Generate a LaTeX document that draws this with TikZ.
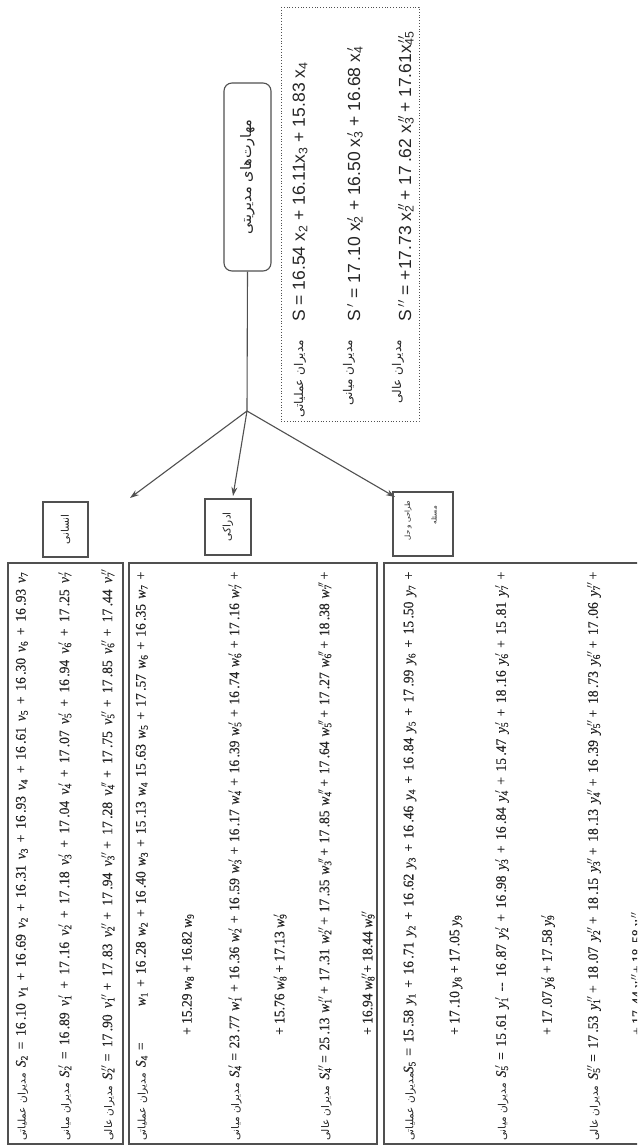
\documentclass[tikz,border=0pt]{standalone}
\usepackage{fontspec}
\setmainfont{Liberation Serif}
\setsansfont{Liberation Sans}
\newfontfamily\eqf[FakeStretch=0.93,FakeBold=0.4]{Liberation Serif}
\newfontfamily\fa[Script=Arabic]{DejaVu Sans}
\TeXXeTstate=1
\usetikzlibrary{arrows.meta}
\definecolor{ink}{HTML}{262626}
\definecolor{ln}{HTML}{505050}
\newcommand\lbl[1]{\mbox{\fontsize{10.5}{12}\selectfont\fa\beginR #1\endR}}
\newcommand\rowj[1]{\makebox[569pt][s]{#1}}
\newcommand\sx[2]{x\rlap{\textsuperscript{#1}}\textsubscript{#2}}
\newcommand\Va[2]{\textit{#1}\textsubscript{#2}}
\newcommand\Vb[2]{\textit{#1}\rlap{\textsuperscript{\,$\prime$}}\textsubscript{#2}}
\newcommand\Vc[2]{\textit{#1}\rlap{\textsuperscript{\,$\prime\prime$}}\textsubscript{#2}}
\begin{document}
\begin{tikzpicture}[x=1pt,y=-1pt,
  every node/.style={text=ink},
  rot/.style={rotate=90,inner sep=0pt},
  eqn/.style={rot,anchor=west,font=\eqf\fontsize{14.5}{17}\selectfont},
  seqn/.style={rot,anchor=west,font=\sffamily\fontsize{17.5}{19}\selectfont},
  slab/.style={rot,anchor=east,font=\fa\fontsize{12}{14}\selectfont},
  smallbox/.style={draw=ln,line width=1.1pt,rotate=90,inner sep=0pt},
  rbox/.style={smallbox,rounded corners=8pt},
  conn/.style={draw=ln,line width=1.1pt},
  arr/.style={conn,-{Stealth[length=9pt,width=6pt]}},
  bigframe/.style={draw=ln,line width=1.1pt},
  dotbox/.style={draw=ln,dotted,line width=0.8pt}]
\useasboundingbox[fill=white] (0,0) rectangle (637,1145);
\clip (0,0) rectangle (637,1145);

% top node
\node[rbox,minimum width=188pt,minimum height=47pt,font=\fa\fontsize{14.5}{16}\selectfont] (mhb) at (247.5,177) {\beginR مهارت‌های مدیریتی\endR};
\coordinate (j) at (247,411);
\draw[conn] (mhb.west) -- (j);

% dotted box
\draw[dotbox] (281,7) rectangle (419,421);
\node[seqn] (d1) at (300,322) {S = 16.54 x\textsubscript{2} + 16.11x\textsubscript{3} + 15.83 x\textsubscript{4}};
\node[seqn] (d2) at (355,322) {S\,$'$ = 17\,.10 \sx{\,$\prime$}{2} + 16.50 \sx{\,$\prime$}{3} + 16.68 \sx{\,$\prime$}{4}};
\node[seqn] (d3) at (406,322) {S\,$''$ = +17.73 \sx{\,$\prime\prime$}{2} + 17\,.62 \sx{\,$\prime\prime$}{3} + 17.61\sx{\,$\prime\prime$}{45}};
\node[slab] (l1) at (300,340) {\beginR مدیران عملیاتی\endR};
\node[slab] (l2) at (349,340) {\beginR مدیران میانی\endR};
\node[slab] (l3) at (398,340) {\beginR مدیران عالی\endR};

% small boxes
\node[smallbox,minimum width=55pt,minimum height=45pt,font=\fa\fontsize{10.5}{12}\selectfont] (ens) at (65.5,529.5) {\beginR انسانی\endR};
\node[smallbox,minimum width=56pt,minimum height=46pt,font=\fa\fontsize{10.5}{12}\selectfont] (adr) at (228,527) {\beginR ادراکی\endR};
\node[smallbox,minimum width=64pt,minimum height=60pt] (tar) at (423,524) {};
\node[rot,anchor=east,font=\fa\fontsize{7}{8}\selectfont] (tar1) at (408,501) {\beginR طراحی و حل\endR};
\node[rot,anchor=east,font=\fa\fontsize{7}{8}\selectfont] (tar2) at (434,506) {\beginR مسئله\endR};

% arrows
\coordinate (tA) at (130,498);
\coordinate (tB) at (233,496);
\coordinate (tC) at (395,497);
\draw[arr] (j) -- (tA);
\draw[arr] (j) -- (tB);
\draw[arr] (j) -- (tC);

% big frames
\draw[bigframe] (8,563) rectangle (123,1144);
\draw[bigframe] (129,563) rectangle (377,1144);
\draw[bigframe] (384,563) rectangle (660,1144);

% box A
\node[eqn] (a1) at (22,1141) {\rowj{\lbl{مدیران عملیاتی}\hspace{6pt}\Va{S}{2} = 16\,.10 \Va{v}{1} + 16\,.69 \Va{v}{2} + 16\,.31 \Va{v}{3} + 16\,.93 \Va{v}{4} + 16\,.61 \Va{v}{5} + 16\,.30 \Va{v}{6} + 16\,.93 \Va{v}{7}}};
\node[eqn] (a2) at (65,1141) {\rowj{\lbl{مدیران میانی}\hspace{6pt}\Vb{S}{2} = 16\,.89 \Vb{v}{1} + 17\,.16 \Vb{v}{2} + 17\,.18 \Vb{v}{3} + 17\,.04 \Vb{v}{4} + 17\,.07 \Vb{v}{5} + 16\,.94 \Vb{v}{6} + 17\,.25 \Vb{v}{7}}};
\node[eqn] (a3) at (108,1141) {\rowj{\lbl{مدیران عالی}\hspace{6pt}\Vc{S}{2} = 17\,.90 \Vc{v}{1} + 17\,.83 \Vc{v}{2} + 17\,.94 \Vc{v}{3} + 17\,.28 \Vc{v}{4} + 17\,.75 \Vc{v}{5} + 17\,.85 \Vc{v}{6} + 17\,.44 \Vc{v}{7}}};

% box B
\node[eqn] (b1) at (142,1141) {\rowj{\lbl{مدیران عملیاتی}\hspace{6pt}\Va{S}{4} =\hspace{2.5em}\Va{w}{1} + 16\,.28 \Va{w}{2} + 16\,.40 \Va{w}{3} + 15\,.13 \Va{w}{4} 15\,.63 \Va{w}{5} + 17\,.57 \Va{w}{6} + 16\,.35 \Va{w}{7} +}};
\node[eqn] (b1c) at (188,1035) {+ 15.29 \Va{w}{8} + 16.82 \Va{w}{9}};
\node[eqn] (b2) at (235,1141) {\rowj{\lbl{مدیران میانی}\hspace{6pt}\Vb{S}{4} = 23\,.77 \Vb{w}{1} + 16\,.36 \Vb{w}{2} + 16\,.59 \Vb{w}{3} + 16\,.17 \Vb{w}{4} + 16\,.39 \Vb{w}{5} + 16\,.74 \Vb{w}{6} + 17\,.16 \Vb{w}{7} +}};
\node[eqn] (b2c) at (280,1035) {+ 15.76 \Vb{w}{8} + 17.13 \Vb{w}{9}};
\node[eqn] (b3) at (325,1141) {\rowj{\lbl{مدیران عالی}\hspace{6pt}\Vc{S}{4} = 25\,.13 \Vc{w}{1} + 17\,.31 \Vc{w}{2} + 17\,.35 \Vc{w}{3} + 17\,.85 \Vc{w}{4} + 17\,.64 \Vc{w}{5} + 17\,.27 \Vc{w}{6} + 18\,.38 \Vc{w}{7} +}};
\node[eqn] (b3c) at (368,1035) {+ 16.94 \Vc{w}{8} + 18.44 \Vc{w}{9}};

% box C
\node[eqn] (c1) at (410,1141) {\rowj{\lbl{مدیران عملیاتی}\Va{S}{5} = 15\,.58 \Va{y}{1} + 16\,.71 \Va{y}{2} + 16\,.62 \Va{y}{3} + 16\,.46 \Va{y}{4} + 16\,.84 \Va{y}{5} + 17\,.99 \Va{y}{6} + 15\,.50 \Va{y}{7} +}};
\node[eqn] (c1c) at (456,1035) {+ 17\,.10 \Va{y}{8} + 17\,.05 \Va{y}{9}};
\node[eqn] (c2) at (502,1141) {\rowj{\lbl{مدیران میانی}\hspace{6pt}\Vb{S}{5} = 15\,.61 \Vb{y}{1} -- 16\,.87 \Vb{y}{2} + 16\,.98 \Vb{y}{3} + 16\,.84 \Vb{y}{4} + 15\,.47 \Vb{y}{5} + 18\,.16 \Vb{y}{6} + 15\,.81 \Vb{y}{7} +}};
\node[eqn] (c2c) at (548,1035) {+ 17\,.07 \Vb{y}{8} + 17\,.58 \Vb{y}{9}};
\node[eqn] (c3) at (594,1141) {\rowj{\lbl{مدیران عالی}\hspace{6pt}\Vc{S}{5} = 17\,.53 \Vc{y}{1} + 18\,.07 \Vc{y}{2} + 18\,.15 \Vc{y}{3} + 18\,.13 \Vc{y}{4} + 16\,.39 \Vc{y}{5} + 18\,.73 \Vc{y}{6} + 17\,.06 \Vc{y}{7} +}};
\node[eqn] (c3c) at (638,1035) {+ 17\,.44 \Vc{y}{8} + 18\,.58 \Vc{y}{9}};
\end{tikzpicture}
\end{document}
